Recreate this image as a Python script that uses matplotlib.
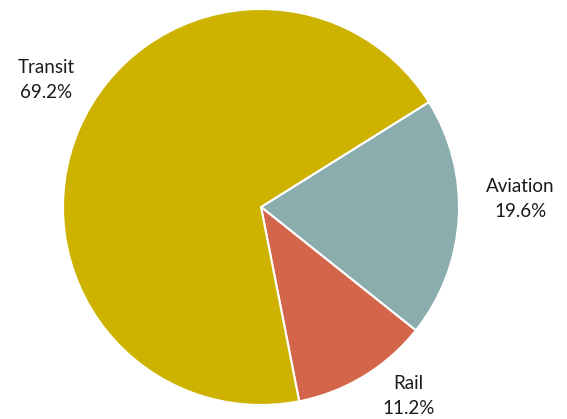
import matplotlib

matplotlib.use("Agg", force=True)

import matplotlib.pyplot as plt
import numpy as np

categories = ["Aviation", "Rail", "Transit"]
shares = [19.6, 11.2, 69.2]
colors = ["#8BADAD", "#D3654B", "#CDB300"]

# label placement: (distance in radii, angle in degrees)
label_layout = {
    "Aviation": (1.31, 1.8),
    "Rail": (1.21, -52.0),
    "Transit": (1.26, 149.4),
}

W, H = 567, 419
cx, cy, r = 261, 212, 198  # pie centre (from bottom) and radius in px

fig = plt.figure(figsize=(W / 100, H / 100), dpi=100)
ax = fig.add_axes([0, 0, 1, 1])

wedges, _ = ax.pie(
    shares,
    colors=colors,
    startangle=32,
    counterclock=False,
    wedgeprops={"edgecolor": "white", "linewidth": 1.5},
)

for name, val in zip(categories, shares):
    dist, ang = label_layout[name]
    t = np.deg2rad(ang)
    ax.text(
        dist * np.cos(t),
        dist * np.sin(t),
        f"{name}\n{val:.1f}%",
        ha="center",
        va="center",
        fontsize=13.5,
        family=["Lato", "DejaVu Sans"],
        color="#1a1a1a",
        linespacing=1.55,
    )

ax.set_xlim(-cx / r, (W - cx) / r)
ax.set_ylim(-cy / r, (H - cy) / r)
ax.set_aspect("auto")
ax.axis("off")

fig.savefig("out.png", dpi=100)
